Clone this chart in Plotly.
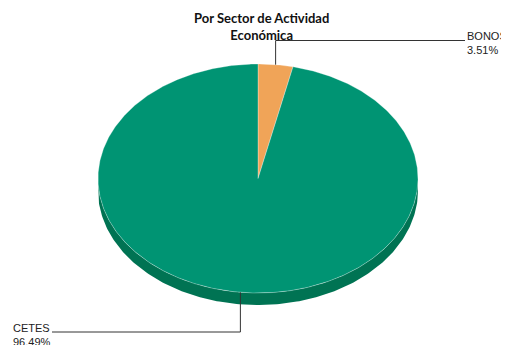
import numpy as np
import plotly.graph_objects as go

categories = ["BONOS", "CETES"]
values = [3.51, 96.49]
colors = ["#F0A458", "#009473"]
side_color = "#007353"
title_lines = ["Por Sector de Actividad", "Económica"]

W, H = 509, 345
OFF = 8  # default page body margin
cx, cy = 258, 178.5
rx, ry = 160, 114.5
depth = 12

def pt(deg, dy=0.0):
    a = np.radians(deg)
    return cx + rx * np.sin(a), cy - ry * np.cos(a) + dy

fig = go.Figure()

# side (front half of the ellipse)
angs = np.linspace(90, 270, 200)
xs_top = [pt(a)[0] for a in angs]
ys_top = [pt(a)[1] for a in angs]
xs_bot = [pt(a, depth)[0] for a in angs[::-1]]
ys_bot = [pt(a, depth)[1] for a in angs[::-1]]
fig.add_trace(go.Scatter(x=xs_top + xs_bot, y=ys_top + ys_bot, fill="toself",
                         fillcolor=side_color, mode="lines",
                         line=dict(width=0, color=side_color), hoverinfo="skip",
                         showlegend=False))

total = sum(values)
start = 0.0
mids = []
for cat, v, col in zip(categories, values, colors):
    span = v / total * 360
    a = np.linspace(start, start + span, max(int(span * 2), 4))
    xs = [cx] + [pt(t)[0] for t in a] + [cx]
    ys = [cy] + [pt(t)[1] for t in a] + [cy]
    fig.add_trace(go.Scatter(x=xs, y=ys, fill="toself", fillcolor=col, mode="lines",
                             line=dict(width=0.6, color="rgba(255,255,255,0.5)"),
                             name=cat, hoverinfo="skip", showlegend=False))
    mids.append(start + span / 2)
    start += span

# leader lines
bx, by = pt(mids[0])
fig.add_trace(go.Scatter(x=[bx, bx, 465], y=[by, 40.5, 40.5], mode="lines",
                         line=dict(color="#333333", width=1), hoverinfo="skip", showlegend=False))
ccx, ccy = pt(mids[1])
fig.add_trace(go.Scatter(x=[ccx, ccx, 52], y=[ccy, 332, 332], mode="lines",
                         line=dict(color="#333333", width=1), hoverinfo="skip", showlegend=False))

lab_font = dict(family="Liberation Sans, Arial", size=11, color="#222222")
fig.add_annotation(x=465, y=28, xref="x", yref="y", xanchor="left", yanchor="top",
                   text=f"{categories[0]}<br>{values[0]:.2f}%", showarrow=False,
                   align="left", font=lab_font)
fig.add_annotation(x=11, y=320, xref="x", yref="y", xanchor="left", yanchor="top",
                   text=f"{categories[1]}<br>{values[1]:.2f}%", showarrow=False,
                   align="left", font=lab_font)

fig.add_annotation(x=261.5, y=8, xref="x", yref="y", xanchor="center", yanchor="top",
                   text="<b>" + "<br>".join(title_lines) + "</b>", showarrow=False,
                   align="center", font=dict(family="Lato, Open Sans", size=13, color="#111111"))

fig.update_layout(width=W - OFF, height=H - OFF, margin=dict(l=0, r=0, t=0, b=0),
                  paper_bgcolor="white", plot_bgcolor="white",
                  xaxis=dict(range=[OFF, W], visible=False, fixedrange=True),
                  yaxis=dict(range=[H, OFF], visible=False, fixedrange=True))

fig.write_html("out.html")
